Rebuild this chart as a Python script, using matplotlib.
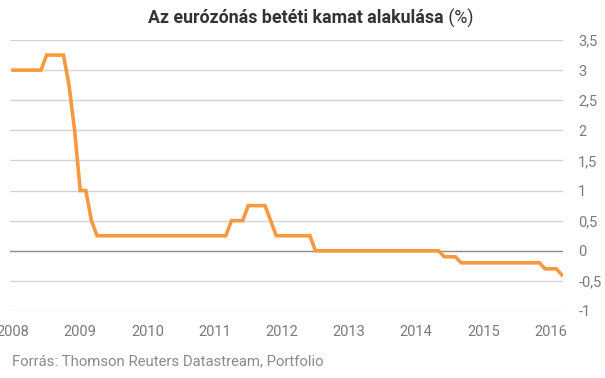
import numpy as np
import matplotlib
matplotlib.use("Agg")
import matplotlib.pyplot as plt

# ECB deposit facility rate, month-end values, Jan 2008 - Mar 2016
rate_2008 = [3.0, 3.0, 3.0, 3.0, 3.0, 3.0, 3.25, 3.25, 3.25, 3.25, 2.75, 2.0]
rate_2009 = [1.0, 1.0, 0.5, 0.25, 0.25, 0.25, 0.25, 0.25, 0.25, 0.25, 0.25, 0.25]
rate_2010 = [0.25] * 12
rate_2011 = [0.25, 0.25, 0.25, 0.5, 0.5, 0.5, 0.75, 0.75, 0.75, 0.75, 0.5, 0.25]
rate_2012 = [0.25, 0.25, 0.25, 0.25, 0.25, 0.25, 0.0, 0.0, 0.0, 0.0, 0.0, 0.0]
rate_2013 = [0.0] * 12
rate_2014 = [0.0, 0.0, 0.0, 0.0, 0.0, -0.1, -0.1, -0.1, -0.2, -0.2, -0.2, -0.2]
rate_2015 = [-0.2] * 11 + [-0.3]
rate_2016 = [-0.3, -0.3, -0.4]

rates = np.array(rate_2008 + rate_2009 + rate_2010 + rate_2011 + rate_2012
                 + rate_2013 + rate_2014 + rate_2015 + rate_2016)
x = 2008 + np.arange(len(rates)) / 12

year_ticks = list(range(2008, 2017))
y_ticks = [-1, -0.5, 0, 0.5, 1, 1.5, 2, 2.5, 3, 3.5]
y_labels = ["-1", "-0,5", "0", "0,5", "1", "1,5", "2", "2,5", "3", "3,5"]

plt.rcParams['font.family'] = ['Roboto', 'DejaVu Sans']

fig = plt.figure(figsize=(6.05, 3.78), dpi=100)
ax = fig.add_axes([10/605, 1 - 311/378, 553/605, 271/378])

for yv in y_ticks:
    if yv == 0:
        continue
    ax.axhline(yv, color="#d4d4d4", lw=1, zorder=1)
ax.axhline(0, color="#8c8c8c", lw=1, zorder=2)

ax.plot(x, rates, color="#f7993f", lw=2.6, solid_joinstyle="miter", zorder=3)

ax.set_xlim(2008 - 0.54/12, 2008 + 98.2/12)
ax.set_ylim(-1, 3.5)
ax.set_xticks(year_ticks)
ax.set_xticklabels([str(y) for y in year_ticks])
ax.set_yticks(y_ticks)
ax.set_yticklabels(y_labels)
ax.yaxis.tick_right()
ax.tick_params(axis="y", length=0, pad=11, labelsize=10.5, labelcolor="#7a7a7a")
ax.tick_params(axis="x", length=0, pad=10, labelsize=10.5, labelcolor="#7a7a7a")
for s in ax.spines.values():
    s.set_visible(False)

# title: bold part plus regular "(%)"
fig.canvas.draw()
r = fig.canvas.get_renderer()
t1 = fig.text(0, 1 - 18/378, "Az eurózónás betéti kamat alakulása", fontsize=12.8,
              fontweight="bold", color="#333333", va="center")
t2 = fig.text(0, 1 - 18/378, " (%)", fontsize=12.8, color="#333333", va="center")
w1 = t1.get_window_extent(r).width
w2 = t2.get_window_extent(r).width
x0 = (605 - w1 - w2) / 2 + 8
t1.set_x(x0 / 605)
t2.set_x((x0 + w1) / 605)

fig.text(12/605, 1 - 361/378, "Forrás: Thomson Reuters Datastream, Portfolio",
         fontsize=10.7, color="#8a8a8a", va="center")

fig.savefig("out.png", dpi=100)
